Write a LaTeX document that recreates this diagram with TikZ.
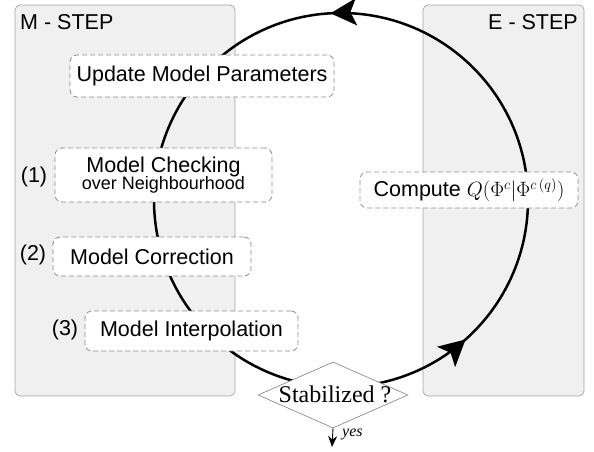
\documentclass[tikz,border=0pt]{standalone}
\usepackage{fontspec}
\setmainfont{Liberation Sans}
\newfontfamily\serifb{Liberation Serif}
\usetikzlibrary{arrows.meta,decorations.markings,shapes.geometric}
\begin{document}
\begin{tikzpicture}[x=1pt,y=1pt,
  panel/.style={draw=black!35, fill=black!6, rounded corners=5pt, line width=0.7pt, inner sep=0pt},
  titletext/.style={font=\fontsize{21.5}{24}\selectfont, inner sep=0pt},
  stepbox/.style={draw=black!45, dash pattern=on 5pt off 3pt, fill=white, rounded corners=7pt,
    line width=0.8pt, inner sep=0pt, align=center, font=\fontsize{21.5}{24}\selectfont},
  numlbl/.style={font=\fontsize{21.5}{24}\selectfont, inner sep=0pt},
  bigtip/.tip={Stealth[length=26pt,width=27pt,inset=6pt]},
  cycle/.style={line width=2.5pt, postaction={decorate},
    decoration={markings,
      mark=at position 0.259 with {\arrow{bigtip}},
      mark=at position 0.866 with {\arrow{bigtip}}}},
]
\useasboundingbox (0,0) rectangle (594,452);
% panels
\node[panel, minimum width=220pt, minimum height=391pt] (mpanel) at (125,251.5) {};
\node[panel, minimum width=161pt, minimum height=391pt] (epanel) at (503.5,251.5) {};
\node[titletext, anchor=base west] (mtitle) at (20,422) {M - STEP};
\node[titletext, anchor=base east] (etitle) at (578,422) {E - STEP};
% cycle
\coordinate (cc) at (341,252);
\draw[cycle] (cc) circle[radius=187];
% step boxes
\node[stepbox, minimum width=264pt, minimum height=42pt] (update) at (202,376) {Update Model Parameters};
\node[stepbox, minimum width=217pt, minimum height=54pt] (check) at (163.5,277)
  {Model Checking\\[-7pt]{\fontsize{18}{20}\selectfont over Neighbourhood}};
\node[stepbox, minimum width=198pt, minimum height=39pt] (corr) at (152,195.5) {Model Correction};
\node[stepbox, minimum width=213pt, minimum height=40pt] (interp) at (191.5,121) {Model Interpolation};
\node[stepbox, minimum width=218pt, minimum height=36pt] (compute) at (469,262)
  {Compute $Q(\Phi^c|\Phi^{c\,(q)})$};
% numbers
\node[numlbl] (n1) at (34,275) {(1)};
\node[numlbl] (n2) at (33,197) {(2)};
\node[numlbl] (n3) at (65,122) {(3)};
% decision
\node[diamond, draw=black!50, line width=0.6pt, fill=white, minimum width=150pt,
  minimum height=66pt, inner sep=0pt] (dia) at (333,57) {};
\node[font=\serifb\fontsize{24}{26}\selectfont, inner sep=0pt, anchor=base] (stab) at (335,49) {Stabilized ?};
\coordinate (yesend) at (332,5);
\draw[-{Stealth[length=11pt,width=9pt]}, line width=0.9pt] (dia.south) -- (yesend);
\node[font=\serifb\itshape\fontsize{16}{16}\selectfont, anchor=west, inner sep=0pt] (yes) at (342,18) {yes};
\end{tikzpicture}
\end{document}
